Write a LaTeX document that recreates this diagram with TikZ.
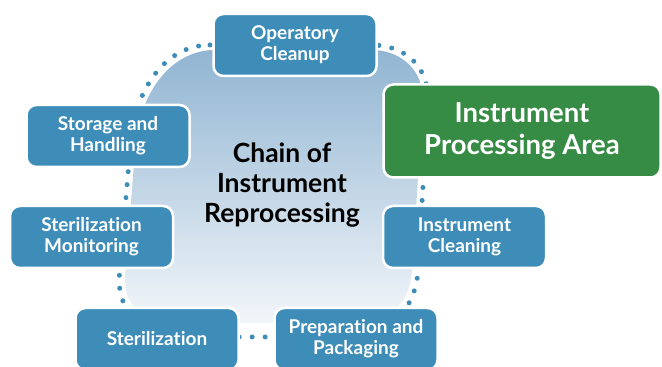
\documentclass[tikz,border=0pt]{standalone}
\usepackage{fontspec}
\setmainfont{Lato}[Ligatures=NoCommon]
\usepackage{tikz}
\usetikzlibrary{positioning}

\definecolor{stepblue}{RGB}{62,141,185}
\definecolor{areagreen}{RGB}{55,140,69}
\definecolor{blobtop}{RGB}{145,181,210}
\definecolor{blobbot}{RGB}{242,246,250}

\tikzset{
  stepbox/.style={rectangle, rounded corners=10pt, draw=white, line width=2.5pt,
    fill=stepblue, text=white, align=center, minimum width=163pt, minimum height=62pt,
    font=\bfseries\fontsize{19}{21}\selectfont},
  areabox/.style={stepbox, fill=areagreen, minimum width=277pt, minimum height=93pt,
    font=\bfseries\fontsize{27.5}{32}\selectfont},
  chaindots/.style={draw=stepblue, line width=5pt, line cap=round, dash pattern=on 0pt off 13pt}
}

\begin{document}
\begin{tikzpicture}[x=1pt,y=1pt,on grid]
  \useasboundingbox (0,0) rectangle (662,367);
  % dotted chain round the blob
  \path[chaindots] (210,322) -- (375,322) .. controls (405,320) and (428,302) .. (428,267)
    -- (418,95) .. controls (414,52) and (385,30) .. (340,30) -- (200,30)
    .. controls (150,30) and (120,47) .. (119,87) -- (130,217)
    .. controls (133,277) and (165,322) .. (210,322) -- cycle;
  % the blob
  \path[top color=blobtop, bottom color=blobbot] (215,317) -- (375,317)
    .. controls (402,315) and (423,297) .. (423,267) -- (412,95)
    .. controls (408,57) and (385,44) .. (345,44) -- (200,44)
    .. controls (150,44) and (126,52) .. (125,87) -- (135,217)
    .. controls (138,272) and (170,317) .. (215,317) -- cycle;

  \node[align=center, font=\bfseries\fontsize{26.5}{30}\selectfont] (chain) at (282,182)
    {Chain of\\Instrument\\Reprocessing};
  \node[stepbox] (op_cleanup) [above right=140pt and 13pt of chain] {Operatory\\Cleanup};
  \node[stepbox] (storage) [above left=49pt and 174pt of chain] {Storage and\\Handling};
  \node[areabox] (proc_area) [above right=54pt and 240pt of chain] {Instrument\\Processing Area};
  \node[stepbox] (ster_mon) [below left=52pt and 190.5pt of chain] {Sterilization\\Monitoring};
  \node[stepbox] (cleaning) [below right=52pt and 182.5pt of chain] {Instrument\\Cleaning};
  \node[stepbox] (sterilize) [below left=154pt and 125pt of chain] {Sterilization};
  \node[stepbox] (prep_pack) [below right=154pt and 74pt of chain] {Preparation and\\Packaging};
\end{tikzpicture}
\end{document}
